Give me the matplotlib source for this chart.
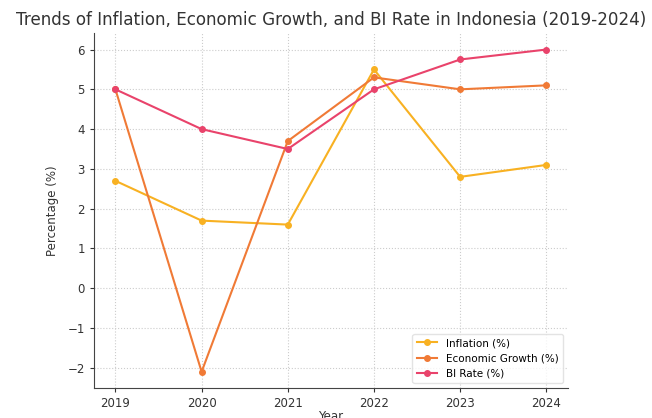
import matplotlib
matplotlib.use("Agg")
import matplotlib.pyplot as plt

# data
years = [2019, 2020, 2021, 2022, 2023, 2024]
inflation = [2.7, 1.7, 1.6, 5.5, 2.8, 3.1]
growth = [5.0, -2.1, 3.7, 5.3, 5.0, 5.1]
bi_rate = [5.0, 4.0, 3.5, 5.0, 5.75, 6.0]

series_labels = ["Inflation (%)", "Economic Growth (%)", "BI Rate (%)"]
colors = ["#f8b122", "#f07a36", "#e9436b"]

fig = plt.figure(figsize=(6.52, 4.18), dpi=100)
ax = fig.add_axes([0.144, 0.072, 0.727, 0.848])

for vals, lab, col in zip([inflation, growth, bi_rate], series_labels, colors):
    ax.plot(years, vals, marker="o", markersize=4, linewidth=1.5, color=col, label=lab)

ax.set_xticks(years)
ax.set_yticks(range(-2, 7))
ax.set_yticklabels([str(v).replace("-", "\u2212") for v in range(-2, 7)])
ax.tick_params(labelsize=8.5, colors="#333333", length=3)

ax.grid(True, linestyle=":", color="#cccccc", linewidth=0.8)
for side in ["top", "right"]:
    ax.spines[side].set_visible(False)
for side in ["left", "bottom"]:
    ax.spines[side].set_color("#444444")

ax.set_title("Trends of Inflation, Economic Growth, and BI Rate in Indonesia (2019-2024)",
             fontsize=12.1, color="#333333", pad=6)
ax.set_ylabel("Percentage (%)", fontsize=8.5, color="#333333", labelpad=6)
ax.set_xlabel("Year", fontsize=8.5, color="#333333", labelpad=0)

ax.legend(loc="lower right", fontsize=7.5, frameon=True, edgecolor="#dddddd")

fig.savefig("out.png", dpi=100)
